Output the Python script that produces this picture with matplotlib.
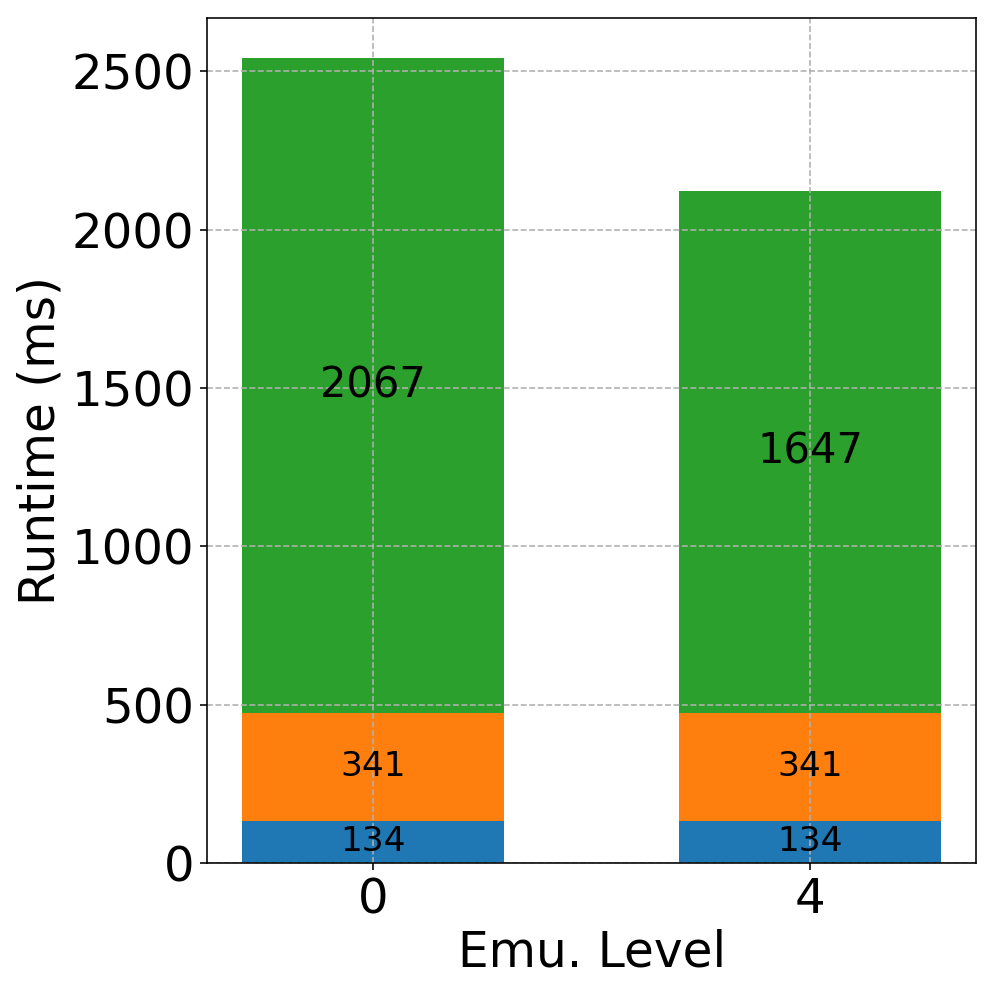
import matplotlib
matplotlib.use("Agg")
import matplotlib.pyplot as plt
import numpy as np

levels = ["0", "4"]
part_a = [134, 134]
part_b = [341, 341]
part_c = [2067, 1647]
colors = ["#1f77b4", "#ff7f0e", "#2ca02c"]
label_sizes = [17.2, 17.2, 20.8]


def plot():
    fig, ax = plt.subplots(figsize=(996 / 144, 996 / 144), dpi=144)
    x = np.arange(len(levels))
    bottom = np.zeros(len(levels))
    for vals, col, fs in zip([part_a, part_b, part_c], colors, label_sizes):
        vals = np.array(vals)
        ax.bar(x, vals, 0.6, bottom=bottom, color=col)
        for xi, b, v in zip(x, bottom, vals):
            ax.text(xi, b + v / 2, str(v), ha="center", va="center",
                    fontsize=fs)
        bottom = bottom + vals
    ax.set_xticks(x)
    ax.set_xticklabels(levels)
    ax.tick_params(labelsize=24.1, pad=3)
    ax.set_xlabel("Emu. Level", fontsize=24.3, labelpad=2.5)
    ax.set_ylabel("Runtime (ms)", fontsize=24.3, labelpad=3.5)
    ax.grid(True, linestyle="--", color="#b0b0b0")
    fig.subplots_adjust(left=0.208, right=0.98, top=0.982, bottom=0.1335)
    fig.savefig("out.png")


if __name__ == "__main__":
    plot()
